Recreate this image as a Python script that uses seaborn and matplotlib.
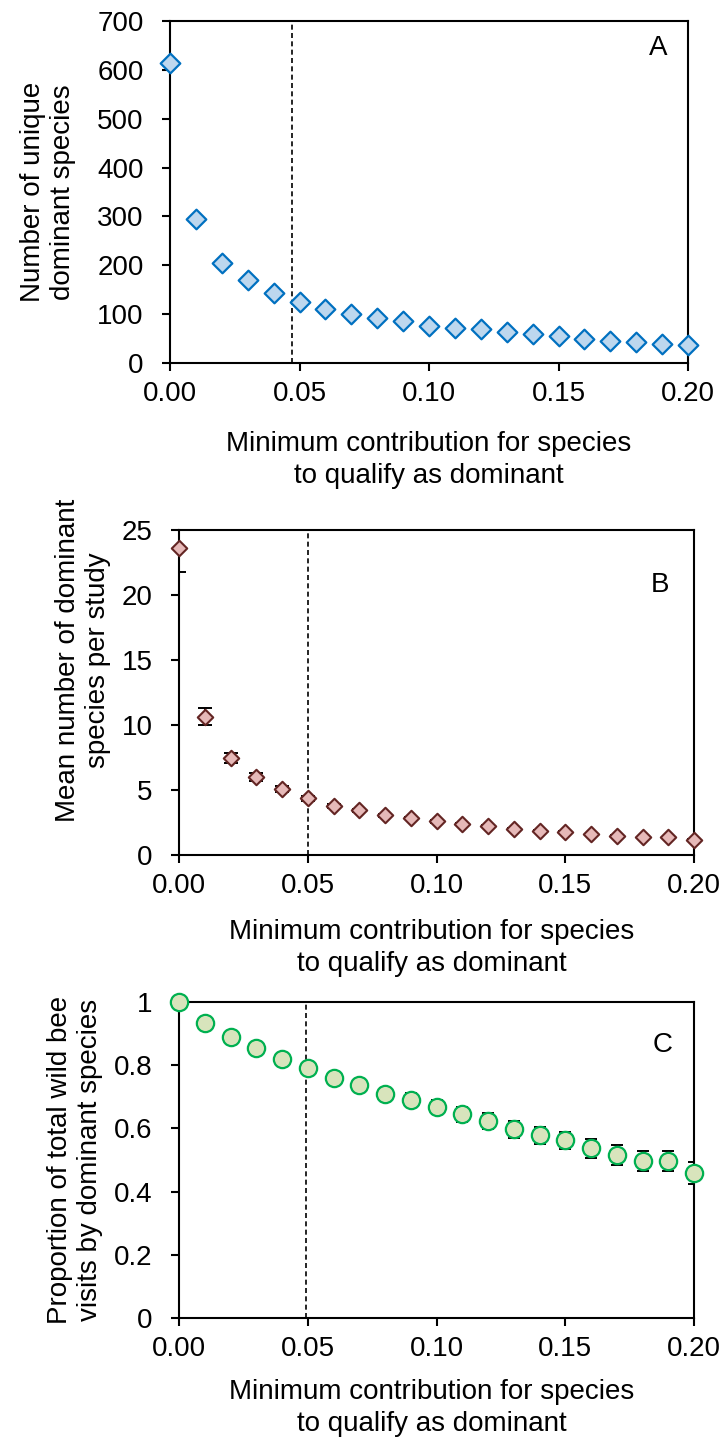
import numpy as np
import pandas as pd
import matplotlib
matplotlib.use("Agg")
import matplotlib.pyplot as plt
import seaborn as sns

# ---- data ----
thresholds = [0.00, 0.01, 0.02, 0.03, 0.04, 0.05, 0.06, 0.07, 0.08, 0.09, 0.10,
              0.11, 0.12, 0.13, 0.14, 0.15, 0.16, 0.17, 0.18, 0.19, 0.20]
unique_dominant = [615, 294, 205, 170, 144, 125, 111, 101, 92, 86, 76,
                   71, 69, 64, 59, 55, 49, 46, 42, 39, 36]
mean_dominant = [23.6, 10.64, 7.47, 5.98, 5.06, 4.37, 3.76, 3.43, 3.04, 2.86, 2.58,
                 2.40, 2.22, 2.02, 1.87, 1.79, 1.59, 1.48, 1.36, 1.36, 1.18]
mean_dominant_se = [1.85, 0.63, 0.40, 0.30, 0.22, 0.18, 0.15, 0.13, 0.11, 0.10, 0.09,
                    0.08, 0.08, 0.07, 0.07, 0.06, 0.06, 0.05, 0.05, 0.05, 0.04]
prop_visits = [1.0, 0.934, 0.889, 0.854, 0.820, 0.792, 0.759, 0.737, 0.709, 0.691, 0.667,
               0.645, 0.624, 0.598, 0.578, 0.562, 0.537, 0.516, 0.497, 0.497, 0.458]
prop_visits_se = [0.0, 0.004, 0.005, 0.006, 0.007, 0.009, 0.012, 0.015, 0.019, 0.020, 0.022,
                  0.024, 0.026, 0.027, 0.027, 0.028, 0.030, 0.032, 0.032, 0.032, 0.035]

x_ticks = [0.00, 0.05, 0.10, 0.15, 0.20]
x_ticklabels = ["0.00", "0.05", "0.10", "0.15", "0.20"]
yA_ticks = [0, 100, 200, 300, 400, 500, 600, 700]
yB_ticks = [0, 5, 10, 15, 20, 25]
yC_ticks = [0, 0.2, 0.4, 0.6, 0.8, 1.0]
yC_ticklabels = ["0", "0.2", "0.4", "0.6", "0.8", "1"]

xlabel = "Minimum contribution for species\nto qualify as dominant"
ylabelA = "Number of unique\ndominant species"
ylabelB = "Mean number of dominant\nspecies per study"
ylabelC = "Proportion of total wild bee\nvisits by dominant species"

dfA = pd.DataFrame({"x": thresholds, "y": unique_dominant})
dfB = pd.DataFrame({"x": thresholds, "y": mean_dominant, "se": mean_dominant_se})
dfC = pd.DataFrame({"x": thresholds, "y": prop_visits, "se": prop_visits_se})

# ---- style ----
sns.set_style("ticks")
plt.rcParams["font.family"] = ["Liberation Sans", "DejaVu Sans"]
plt.rcParams["font.size"] = 20
plt.rcParams["text.color"] = "black"
plt.rcParams["axes.labelcolor"] = "black"
plt.rcParams["xtick.color"] = "black"
plt.rcParams["ytick.color"] = "black"
plt.rcParams["axes.linewidth"] = 1.5
plt.rcParams["xtick.major.width"] = 1.5
plt.rcParams["ytick.major.width"] = 1.5
plt.rcParams["xtick.major.size"] = 6
plt.rcParams["ytick.major.size"] = 6
plt.rcParams["axes.edgecolor"] = "black"

fig = plt.figure(figsize=(7.24, 14.44), dpi=100)

W, H = 724.0, 1444.0
def add_axes(left, right, top, bottom):
    return fig.add_axes([left / W, 1 - bottom / H, (right - left) / W, (bottom - top) / H])

axA = add_axes(170, 688, 21, 363)
axB = add_axes(179, 694, 530, 855)
axC = add_axes(179, 694, 1002, 1318)

def style_axis(ax, yticks, yticklabels, ylim, ylabel, ylab_x, ylab_y, xlab_y, xlab_x, letter, lx, ly, vline):
    ax.set_xlim(0, 0.20)
    ax.set_ylim(*ylim)
    ax.set_xticks(x_ticks)
    ax.set_xticklabels(x_ticklabels)
    ax.set_yticks(yticks)
    ax.set_yticklabels(yticklabels)
    ax.tick_params(axis="both", labelsize=20, colors="black", direction="out")
    ax.tick_params(axis="y", pad=13)
    ax.tick_params(axis="x", pad=7)
    for s in ax.spines.values():
        s.set_visible(True)
        s.set_color("black")
        s.set_linewidth(1.5)
    ax.set_xlabel(xlabel, fontsize=20, linespacing=1.3)
    ax.set_ylabel(ylabel, fontsize=20, linespacing=1.2)
    ax.xaxis.set_label_coords(xlab_x, xlab_y)
    ax.yaxis.set_label_coords(ylab_x, ylab_y)
    ax.xaxis.label.set_verticalalignment("center")
    ax.yaxis.label.set_verticalalignment("center")
    ax.axvline(vline, color="black", linestyle=(0, (3, 2)), linewidth=1.2, zorder=1)
    ax.text(lx, ly, letter, transform=ax.transAxes, fontsize=20, ha="center", va="center")

# Panel A
sns.scatterplot(data=dfA, x="x", y="y", ax=axA, marker="D", s=100,
                color="#BDD7EE", edgecolor="#0070C0", linewidth=1.6, clip_on=False, zorder=3)
style_axis(axA, yA_ticks, [str(v) for v in yA_ticks], (0, 700), ylabelA,
           -0.2355, 0.5, -0.285, 0.5, "A", 0.942, 0.921, 0.047)

# Panel B
axB.errorbar(dfB["x"], dfB["y"], yerr=dfB["se"], fmt="none", ecolor="black",
             elinewidth=1.4, capsize=5, capthick=1.4, zorder=2)
sns.scatterplot(data=dfB, x="x", y="y", ax=axB, marker="D", s=62,
                color="#E6B9B8", edgecolor="#632523", linewidth=1.5, clip_on=False, zorder=3)
style_axis(axB, yB_ticks, [str(v) for v in yB_ticks], (0, 25), ylabelB,
           -0.1864, 0.6, -0.285, 0.49, "B", 0.934, 0.831, 0.05)

# Panel C
axC.errorbar(dfC["x"], dfC["y"], yerr=dfC["se"], fmt="none", ecolor="black",
             elinewidth=1.4, capsize=4.5, capthick=1.4, zorder=2)
sns.scatterplot(data=dfC, x="x", y="y", ax=axC, marker="o", s=155,
                color="#D8E4BC", edgecolor="#00B050", linewidth=1.6, clip_on=False, zorder=3)
style_axis(axC, yC_ticks, yC_ticklabels, (0, 1.0), ylabelC,
           -0.202, 0.5, -0.285, 0.49, "C", 0.94, 0.864, 0.0495)

fig.savefig("out.png", dpi=100)
